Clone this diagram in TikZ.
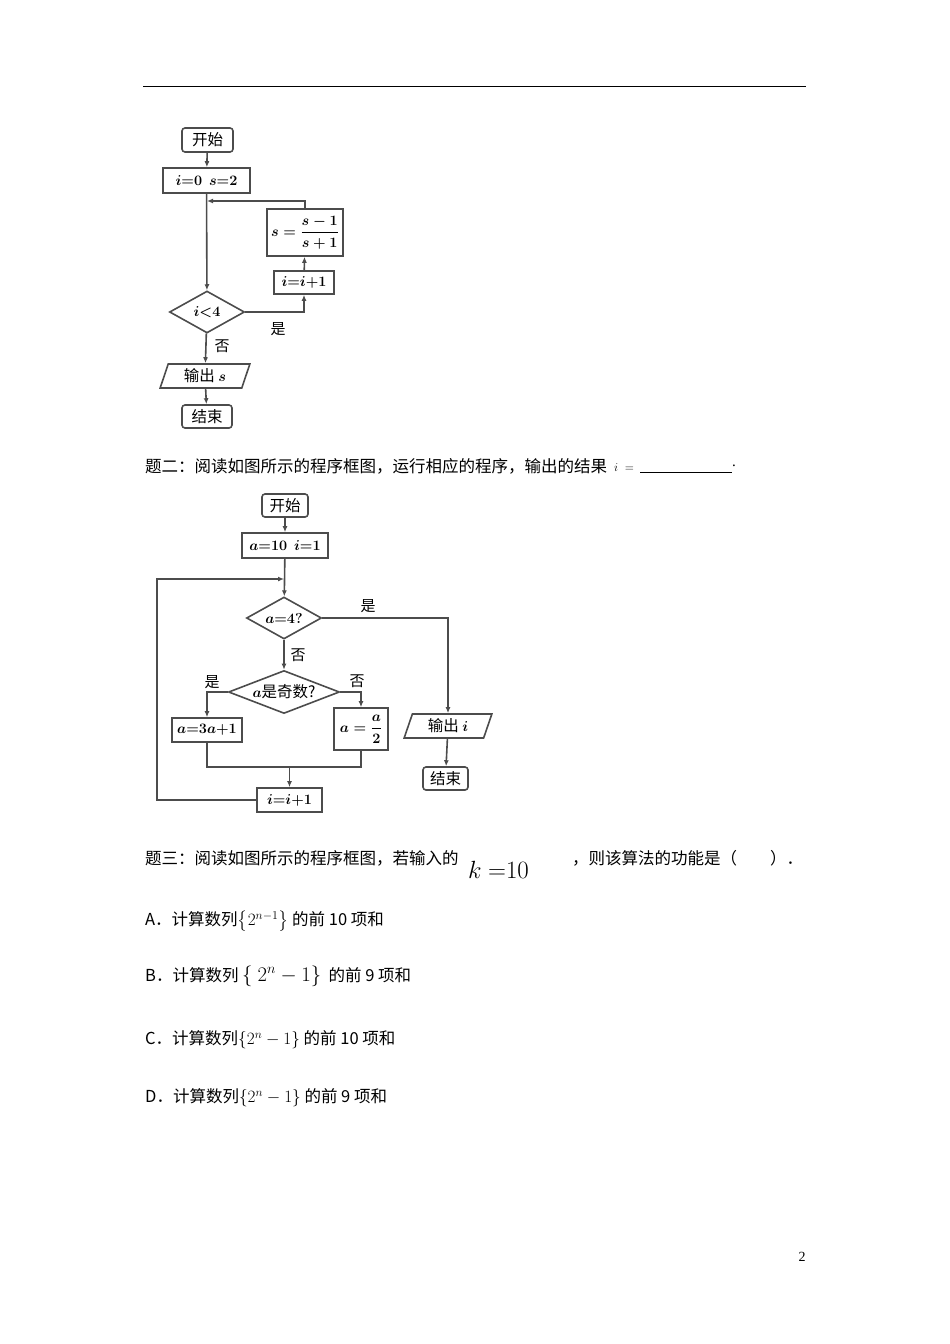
\documentclass[tikz,border=0pt]{standalone}
\usepackage{fontspec}
\usepackage{amsmath}
\setmainfont{Liberation Serif}
\newfontfamily\cjk{Noto Sans CJK SC}
\usetikzlibrary{shapes.geometric,arrows.meta}
\tikzset{
 fc/.style={draw=black!70,line width=1.6pt,inner sep=0pt,font=\cjk\fontsize{15.5}{17}\selectfont\boldmath},
 rbox/.style={fc,rounded corners=3pt},
 sbox/.style={fc},
 dia/.style={fc,diamond,aspect=1.8},
 para/.style={fc,trapezium,trapezium left angle=72,trapezium right angle=108,trapezium stretches=true},
 ln/.style={draw=black!70,line width=1.6pt},
 ar/.style={ln,-{Latex[length=6pt,width=5pt]}},
 lab/.style={font=\cjk\fontsize{15}{17}\selectfont},
 txt/.style={font=\cjk\fontsize{16.5}{19}\selectfont,anchor=west,inner sep=0pt},
}
\begin{document}
\begin{tikzpicture}[x=1pt,y=-1pt]
\useasboundingbox (0,0) rectangle (950,1344);
\draw[line width=0.9pt] (143,86) -- (806,86);
% flowchart 1
\node[rbox,minimum width=51,minimum height=24] (s1) at (207.5,140) {开始};
\node[sbox,minimum width=87,minimum height=25] (i1) at (206.5,180.5) {$i{=}0\ \ s{=}2$};
\node[sbox,minimum width=76,minimum height=47] (f1) at (305,232.5) {$s=\dfrac{s-1}{s+1}$};
\node[sbox,minimum width=60,minimum height=23] (u1) at (304,282.5) {$i{=}i{+}1$};
\node[dia,minimum width=75,minimum height=42] (d1) at (207,312) {$i{<}4$};
\node[para,minimum width=90,minimum height=24] (o1) at (205,376) {输出 $s$};
\node[rbox,minimum width=50,minimum height=23] (e1) at (207,416.5) {结束};
\coordinate (j1) at (207,201);
\draw[ar] (s1) -- (i1);
\draw[ar] (i1) -- (d1);
\draw[ar] (d1.east) -| (u1.south);
\draw[ar] (u1) -- (f1);
\draw[ar] (f1.north) |- (j1);
\draw[ar] (d1) -- (o1);
\draw[ar] (o1) -- (e1);
\node[lab] (y1) at (278,329) {是};
\node[lab] (n1) at (222,346) {否};
% question 2 text
\node[txt] (q2) at (145,466) {题二：阅读如图所示的程序框图，运行相应的程序，输出的结果};
\node[anchor=west,inner sep=0pt,font=\fontsize{13}{15}\selectfont] (q2i) at (614,468) {$i\ =$};
\draw[line width=0.8pt] (640,472) -- (732,472);
\node[anchor=west,inner sep=0pt,font=\fontsize{15}{17}\selectfont] (q2d) at (732,466) {.};
% flowchart 2
\node[rbox,minimum width=46,minimum height=23] (s2) at (285,505.5) {开始};
\node[sbox,minimum width=86,minimum height=25] (i2) at (285,545.5) {$a{=}10\ \ i{=}1$};
\node[dia,minimum width=75,minimum height=42] (d2) at (284,618) {$a{=}4?$};
\node[dia,minimum width=111,minimum height=43,aspect=2.6] (d3) at (284,692) {$a$是奇数?};
\node[sbox,minimum width=70,minimum height=24] (b1) at (207,730) {$a{=}3a{+}1$};
\node[sbox,minimum width=54,minimum height=42] (b2) at (361,729) {$a=\dfrac{a}{2}$};
\node[sbox,minimum width=65,minimum height=24] (u2) at (289.5,800) {$i{=}i{+}1$};
\node[para,minimum width=88,minimum height=24] (o2) at (448,726) {输出 $i$};
\node[rbox,minimum width=45,minimum height=23] (e2) at (445.5,778.5) {结束};
\coordinate (j2) at (284,579);
\coordinate (lc) at (157,579);
\coordinate (m1) at (207,767);
\coordinate (m2) at (361,767);
\coordinate (m3) at (289.5,767);
\draw[ar] (s2) -- (i2);
\draw[ar] (i2) -- (d2);
\draw[ar] (d2) -- (d3);
\draw[ar] (d2.east) -| (o2.north);
\draw[ar] (o2) -- (e2);
\draw[ar] (d3.west) -| (b1.north);
\draw[ar] (d3.east) -| (b2.north);
\draw[ln] (b1.south) |- (m1) -- (m2) -- (b2.south);
\draw[ar] (m3) -- (u2);
\draw[ar] (u2.west) -| (lc) -- (j2);
\node[lab] (y2) at (368,606) {是};
\node[lab] (n2) at (298,655) {否};
\node[lab] (y3) at (212,682) {是};
\node[lab] (n3) at (357,681) {否};
% question 3
\node[txt] (q3) at (145,858) {题三：阅读如图所示的程序框图，若输入的};
\node[anchor=west,inner sep=0pt,font=\fontsize{26}{28}\selectfont] (k) at (468,870) {$k\ {=}10$};
\node[txt] (q3b) at (572,858) {，则该算法的功能是（　　）．};
\node[txt] (oa) at (145,921) {A．计算数列$\left\{2^{n-1}\right\}$ 的前 10 项和};
\node[txt] (ob) at (145,976) {B．计算数列 {\fontsize{22}{24}\selectfont$\{\ 2^{n}-1\}$} \ 的前 9 项和};
\node[txt] (oc) at (145,1040) {C．计算数列$\left\{2^{n}-1\right\}$ 的前 10 项和};
\node[txt] (od) at (145,1098) {D．计算数列$\left\{2^{n}-1\right\}$ 的前 9 项和};
\node[inner sep=0pt,font=\fontsize{14}{16}\selectfont] (pg) at (802,1257) {2};
\end{tikzpicture}
\end{document}
